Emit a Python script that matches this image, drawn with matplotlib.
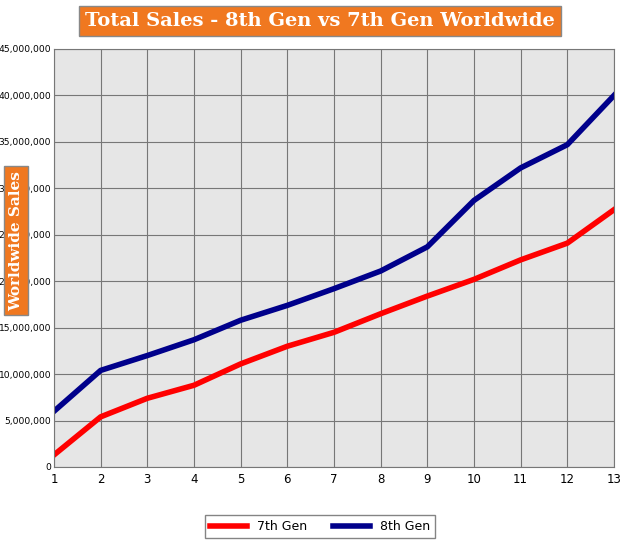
import matplotlib
matplotlib.use("Agg")
import matplotlib.pyplot as plt
from matplotlib.ticker import FuncFormatter

months = list(range(1, 14))
gen7 = [1.3, 5.4, 7.4, 8.8, 11.1, 13.0, 14.5, 16.5, 18.4, 20.2, 22.3, 24.1, 27.7]
gen8 = [6.0, 10.4, 12.0, 13.7, 15.8, 17.4, 19.2, 21.1, 23.7, 28.7, 32.2, 34.7, 40.0]
gen7 = [v * 1e6 for v in gen7]
gen8 = [v * 1e6 for v in gen8]

fig = plt.figure(figsize=(6.4, 5.47), dpi=100)
fig.patch.set_facecolor("white")
ax = fig.add_axes([54/640, (547-467)/547, (614-54)/640, (467-49)/547])
ax.set_facecolor("#e6e6e6")
ax.plot(months, gen7, color="#ff0000", lw=4, label="7th Gen")
ax.plot(months, gen8, color="#00008b", lw=4, label="8th Gen")
ax.set_xlim(1, 13)
ax.set_ylim(0, 45e6)
ax.set_xticks(months)
ax.set_yticks(range(0, 45000001, 5000000))
ax.yaxis.set_major_formatter(FuncFormatter(lambda v, p: f"{int(v):,}"))
ax.grid(True, color="#777777", lw=0.8)
ax.tick_params(axis="y", labelsize=6.6, length=0, pad=2)
ax.tick_params(axis="x", labelsize=8.5, length=0, pad=4)
for s in ax.spines.values():
    s.set_color("#777777")
ax.set_axisbelow(True)

fig.text(0.5, 0.962, "Total Sales - 8th Gen vs 7th Gen Worldwide", ha="center", va="center",
         fontsize=14, fontweight="bold", color="white", family="DejaVu Serif",
         bbox=dict(facecolor="#f07820", edgecolor="#888888", boxstyle="square,pad=0.3"))
fig.text(0.025, 0.56, "Worldwide Sales", rotation=90, ha="center", va="center",
         fontsize=11, fontweight="bold", color="white", family="DejaVu Serif", zorder=10,
         bbox=dict(facecolor="#f07820", edgecolor="#888888", boxstyle="square,pad=0.3"))
fig.legend(loc="lower center", bbox_to_anchor=(0.5, 0.005), ncol=2, fontsize=9,
           frameon=True, edgecolor="#666666", fancybox=False, handlelength=3)
fig.savefig("out.png", dpi=100)
